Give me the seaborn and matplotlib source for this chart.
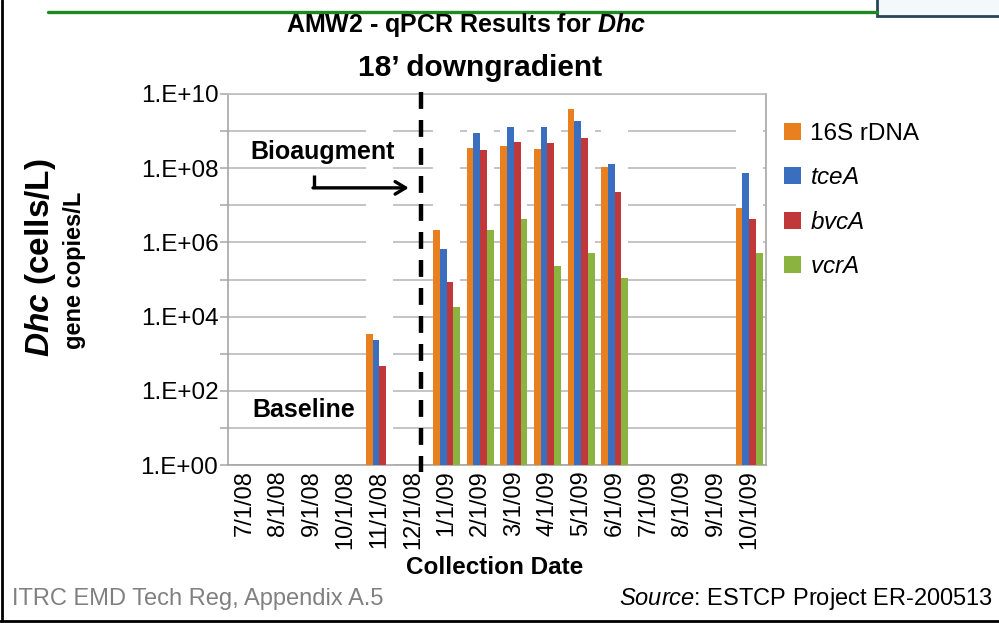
import numpy as np
import pandas as pd
import matplotlib
matplotlib.use("Agg")
import matplotlib.pyplot as plt
import matplotlib.transforms as mtransforms
from matplotlib.patches import Patch, Rectangle
from matplotlib.lines import Line2D
import seaborn as sns

# ---- data -------------------------------------------------------------
dates = ["7/1/08", "8/1/08", "9/1/08", "10/1/08", "11/1/08", "12/1/08",
         "1/1/09", "2/1/09", "3/1/09", "4/1/09", "5/1/09", "6/1/09",
         "7/1/09", "8/1/09", "9/1/09", "10/1/09"]
genes = ["16S rDNA", "tceA", "bvcA", "vcrA"]

rdna_16s = [None, None, None, None, 3.4e3, None, 2.1e6, 3.4e8, 4.0e8, 3.3e8,
            3.9e9, 1.1e8, None, None, None, 8.3e6]
tce_a = [None, None, None, None, 2.3e3, None, 6.6e5, 8.7e8, 1.3e9, 1.26e9,
         1.9e9, 1.3e8, None, None, None, 7.3e7]
bvc_a = [None, None, None, None, 4.7e2, None, 8.7e4, 3.0e8, 5.0e8, 4.9e8,
         6.6e8, 2.3e7, None, None, None, 4.2e6]
vcr_a = [None, None, None, None, None, None, 1.8e4, 2.2e6, 4.2e6, 2.3e5,
         5.1e5, 1.1e5, None, None, None, 5.3e5]

gene_colors = ["#E8801F", "#3A6FBF", "#C0383A", "#8AB43F"]
decades = [10.0 ** k for k in range(0, 11)]
decade_labels = ["1.E+%02d" % k if k % 2 == 0 else "" for k in range(0, 11)]
bioaugment_x = 5.25   # injection date, between 12/1/08 and 1/1/09

# ---- long table -------------------------------------------------------
rows = []
for gene, series in zip(genes, [rdna_16s, tce_a, bvc_a, vcr_a]):
    for d, v in zip(dates, series):
        if v is not None:
            rows.append({"date": d, "gene": gene, "copies": v})
df = pd.DataFrame(rows)

# ---- style ------------------------------------------------------------
sns.set_style("white")
plt.rcParams["font.family"] = ["Liberation Sans", "DejaVu Sans"]
plt.rcParams["text.color"] = "black"
plt.rcParams["xtick.color"] = "black"
plt.rcParams["ytick.color"] = "black"
plt.rcParams["axes.labelcolor"] = "black"
plt.rcParams["mathtext.fontset"] = "custom"
plt.rcParams["mathtext.rm"] = "Liberation Sans"
plt.rcParams["mathtext.it"] = "Liberation Sans:italic"
plt.rcParams["mathtext.bf"] = "Liberation Sans:bold"
plt.rcParams["mathtext.bfit"] = "Liberation Sans:italic:bold"

W, H = 999, 623
fig = plt.figure(figsize=(W / 100, H / 100), dpi=100)
fig.patch.set_facecolor("white")

ax_left, ax_right, ax_top, ax_bottom = 228, 766, 94, 465
ax = fig.add_axes([ax_left / W, 1 - ax_bottom / H,
                   (ax_right - ax_left) / W, (ax_bottom - ax_top) / H])
ax.set_yscale("log", nonpositive="clip")

sns.barplot(data=df, x="date", y="copies", hue="gene", order=dates,
            hue_order=genes, palette=gene_colors, width=0.8, gap=0,
            errorbar=None, legend=False, linewidth=0, saturation=1,
            ax=ax)

# bars grow from the bottom of the log axis
bars = [p for p in ax.patches if isinstance(p, Rectangle)]
for p in bars:
    top = p.get_y() + p.get_height()
    if p.get_y() <= 0 and top > 0:
        p.set_y(1e-3)
        p.set_height(top - 1e-3)
    p.set_zorder(3)

ax.set_ylim(1, 1e10)
ax.set_xlim(-0.5, len(dates) - 0.5)

# white columns behind each sampled date break the gridlines
for i, d in enumerate(dates):
    if any(s[i] is not None for s in [rdna_16s, tce_a, bvc_a, vcr_a]):
        ax.axvspan(i - 0.4, i + 0.4, ymin=0, ymax=0.985, color="white",
                   lw=0, zorder=1)

ax.set_yticks(decades)
ax.set_yticklabels(decade_labels)
ax.yaxis.set_minor_locator(matplotlib.ticker.NullLocator())
ax.yaxis.grid(True, color="#BFBFBF", lw=1.3, zorder=0)
ax.xaxis.grid(False)
ax.set_axisbelow(True)

ax.set_xticks(range(len(dates)))
ax.set_xticklabels(dates, rotation=90)
ax.set_xticks(np.arange(-0.5, len(dates), 1.0), minor=True)
ax.tick_params(axis="x", which="major", length=0, pad=4, labelsize=17,
               labelcolor="black")
ax.tick_params(axis="x", which="minor", length=6, width=1.1, color="#A6A6A6")
ax.tick_params(axis="y", which="major", length=6, width=1.1, color="#A6A6A6",
               pad=1, labelsize=17.5, left=True, labelcolor="black")
ax.set_xlabel("")
ax.set_ylabel("")
for s in ax.spines.values():
    s.set_visible(True)
    s.set_color("#A6A6A6")
    s.set_linewidth(1.2)
ax.spines["top"].set_color("#BFBFBF")

# bioaugmentation marker
trans = mtransforms.blended_transform_factory(ax.transData, ax.transAxes)
ax.plot([bioaugment_x, bioaugment_x], [1.005, -0.02], transform=trans,
        color="black", lw=3.2, dashes=(3.8, 2.5), clip_on=False, zorder=6)

ax.text(0.041, 0.845, "Bioaugment", transform=ax.transAxes, fontsize=18,
        fontweight="bold", ha="left", va="center", zorder=7)
ax.plot([0.16, 0.16], [0.781, 0.747], transform=ax.transAxes, color="black",
        lw=2.4, solid_capstyle="butt", zorder=7)
ax.annotate("", xy=(0.336, 0.747), xytext=(0.158, 0.747),
            xycoords="axes fraction", textcoords="axes fraction",
            arrowprops=dict(arrowstyle="->,head_length=0.75,head_width=0.45",
                            lw=2.4, color="black", shrinkA=0, shrinkB=0),
            zorder=7)
ax.text(0.045, 0.148, "Baseline", transform=ax.transAxes, fontsize=18,
        fontweight="bold", ha="left", va="center", zorder=7)

# ---- titles and labels ------------------------------------------------
fig.text(466 / W, 1 - 25 / H, r"AMW2 - qPCR Results for $\mathbfit{Dhc}$",
         fontsize=18, fontweight="bold", ha="center", va="center")
fig.text(480 / W, 1 - 68 / H, "18\u2019 downgradient", fontsize=21.5,
         fontweight="bold", ha="center", va="center")
fig.text(41 / W, 1 - 258 / H, r"$\mathbfit{Dhc}$ (cells/L)", fontsize=24,
         fontweight="bold", rotation=90, ha="center", va="center")
fig.text(75 / W, 1 - 270 / H, "gene copies/L", fontsize=17,
         fontweight="bold", rotation=90, ha="center", va="center")
fig.text(495 / W, 1 - 567 / H, "Collection Date", fontsize=17.5,
         fontweight="bold", ha="center", va="center")

handles = [Patch(facecolor=c, edgecolor="none") for c in gene_colors]
labels = ["16S rDNA", r"$\mathit{tceA}$", r"$\mathit{bvcA}$", r"$\mathit{vcrA}$"]
fig.legend(handles, labels, loc="upper left",
           bbox_to_anchor=(784 / W, 1 - 123 / H), frameon=False,
           fontsize=17.5, handlelength=0.7, handleheight=0.7,
           handletextpad=0.35, labelspacing=0.92, borderpad=0,
           borderaxespad=0, labelcolor="black")

fig.text(12 / W, 1 - 605 / H, "ITRC EMD Tech Reg, Appendix A.5",
         color="#808080", fontsize=17, ha="left", va="baseline")
fig.text(993 / W, 1 - 605 / H, r"$\mathit{Source}$: ESTCP Project ER-200513",
         color="black", fontsize=17, ha="right", va="baseline")

# ---- slide frame ------------------------------------------------------
px = mtransforms.Affine2D().scale(1, -1).translate(0, H) + \
     mtransforms.Affine2D().scale(1 / W, 1 / H) + fig.transFigure
fig.add_artist(Line2D([2, 2], [0, 621], transform=px, color="black", lw=2))
fig.add_artist(Line2D([0, W], [621, 621], transform=px, color="black", lw=2))
fig.add_artist(Line2D([48, 877], [12, 12], transform=px, color="#1E8A1E",
                      lw=2.4))
fig.add_artist(Rectangle((877, -4), 130, 20, transform=px,
                         facecolor="#F3F8FA", edgecolor="#24485A", lw=2))

fig.savefig("out.png", dpi=100)
